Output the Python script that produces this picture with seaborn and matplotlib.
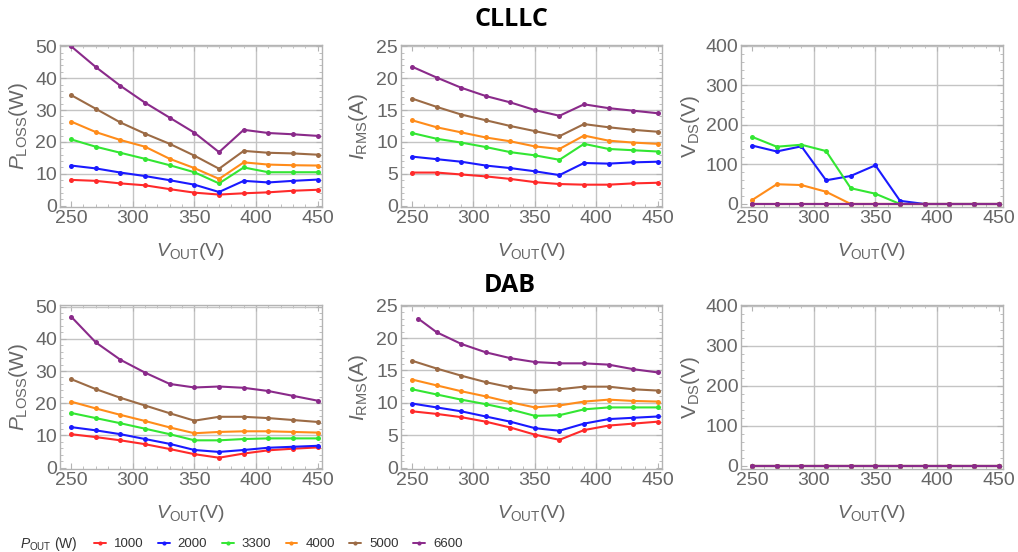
import numpy as np
import pandas as pd
import matplotlib
matplotlib.use("Agg")
import matplotlib.pyplot as plt
from matplotlib.ticker import MultipleLocator
from matplotlib.lines import Line2D
import seaborn as sns

# ---------------- data ----------------
vout = [250, 270, 290, 310, 330, 350, 370, 390, 410, 430, 450]
vout_dab_6600_irms = [255, 270, 290, 310, 330, 350, 370, 390, 410, 430, 450]
pout_levels = ["1000", "2000", "3300", "4000", "5000", "6600"]

# CLLLC power loss (W)
clllc_ploss_1000 = [8.1, 7.8, 7.0, 6.4, 5.2, 4.1, 3.5, 3.9, 4.2, 4.7, 5.0]
clllc_ploss_2000 = [12.6, 11.7, 10.4, 9.3, 8.0, 6.6, 4.3, 7.8, 7.3, 7.8, 8.2]
clllc_ploss_3300 = [20.8, 18.5, 16.6, 14.7, 12.7, 10.5, 7.0, 12.0, 10.5, 10.5, 10.5]
clllc_ploss_4000 = [26.4, 23.1, 20.6, 18.5, 14.7, 11.8, 8.4, 13.6, 12.9, 12.7, 12.6]
clllc_ploss_5000 = [34.7, 30.4, 26.1, 22.6, 19.4, 15.7, 11.6, 17.2, 16.6, 16.4, 16.0]
clllc_ploss_6600 = [50.0, 43.5, 37.6, 32.3, 27.6, 22.9, 16.8, 23.8, 22.8, 22.4, 21.9]

# CLLLC RMS current (A)
clllc_irms_1000 = [5.2, 5.2, 4.9, 4.6, 4.2, 3.7, 3.4, 3.3, 3.3, 3.5, 3.6]
clllc_irms_2000 = [7.7, 7.3, 6.9, 6.3, 5.9, 5.4, 4.8, 6.7, 6.6, 6.8, 6.9]
clllc_irms_3300 = [11.4, 10.5, 9.9, 9.2, 8.4, 7.9, 7.2, 9.7, 8.9, 8.7, 8.5]
clllc_irms_4000 = [13.4, 12.3, 11.5, 10.7, 10.1, 9.3, 8.9, 11.0, 10.2, 9.9, 9.7]
clllc_irms_5000 = [16.8, 15.5, 14.3, 13.4, 12.5, 11.7, 10.9, 12.8, 12.3, 11.9, 11.6]
clllc_irms_6600 = [21.8, 20.1, 18.5, 17.2, 16.2, 15.0, 14.1, 15.9, 15.3, 14.9, 14.5]

# CLLLC drain-source voltage at switching (V)
clllc_vds_1000 = [0, 0, 0, 0, 0, 0, 0, 0, 0, 0, 0]
clllc_vds_2000 = [148, 133, 146, 60, 71, 98, 8, 0, 0, 0, 0]
clllc_vds_3300 = [170, 145, 150, 134, 40, 26, 0, 0, 0, 0, 0]
clllc_vds_4000 = [10, 50, 48, 31, 0, 0, 0, 0, 0, 0, 0]
clllc_vds_5000 = [0, 0, 0, 0, 0, 0, 0, 0, 0, 0, 0]
clllc_vds_6600 = [0, 0, 0, 0, 0, 0, 0, 0, 0, 0, 0]

# DAB power loss (W)
dab_ploss_1000 = [10.4, 9.5, 8.5, 7.3, 5.8, 4.2, 3.1, 4.4, 5.4, 5.9, 6.3]
dab_ploss_2000 = [12.6, 11.6, 10.4, 8.9, 7.4, 5.5, 4.9, 5.5, 6.2, 6.5, 6.8]
dab_ploss_3300 = [17.0, 15.4, 13.8, 12.1, 10.4, 8.5, 8.5, 8.9, 9.1, 9.1, 9.1]
dab_ploss_4000 = [20.5, 18.4, 16.4, 14.5, 12.5, 10.7, 11.1, 11.3, 11.3, 11.1, 10.9]
dab_ploss_5000 = [27.5, 24.4, 21.7, 19.3, 16.9, 14.6, 15.8, 15.8, 15.4, 14.8, 14.2]
dab_ploss_6600 = [46.9, 38.9, 33.5, 29.5, 26.0, 24.9, 25.2, 24.8, 23.8, 22.3, 20.8]

# DAB RMS current (A)
dab_irms_1000 = [8.7, 8.3, 7.8, 7.1, 6.2, 5.1, 4.3, 5.8, 6.5, 6.8, 7.1]
dab_irms_2000 = [9.9, 9.3, 8.7, 7.9, 7.1, 6.1, 5.7, 6.8, 7.5, 7.7, 7.9]
dab_irms_3300 = [12.1, 11.3, 10.5, 9.8, 9.0, 8.0, 8.1, 9.0, 9.3, 9.3, 9.3]
dab_irms_4000 = [13.6, 12.7, 11.8, 11.0, 10.1, 9.3, 9.6, 10.2, 10.5, 10.3, 10.2]
dab_irms_5000 = [16.5, 15.3, 14.2, 13.2, 12.4, 11.9, 12.1, 12.5, 12.5, 12.1, 11.9]
dab_irms_6600 = [23.0, 20.9, 19.1, 17.8, 16.9, 16.3, 16.1, 16.1, 15.9, 15.2, 14.7]

# DAB drain-source voltage at switching (V)
dab_vds_all = [0, 0, 0, 0, 0, 0, 0, 0, 0, 0, 0]

colors = ["#ff2a2a", "#1a1aff", "#33e633", "#ff8c1a", "#9c6b45", "#8a2a8a"]

# ---------------- helpers ----------------
def build_df(series, xs_list):
    rows = []
    for lvl, vals, xs in zip(pout_levels, series, xs_list):
        for x, v in zip(xs, vals):
            rows.append({"V": x, "val": v, "P": lvl})
    return pd.DataFrame(rows)

panels = [
    ([clllc_ploss_1000, clllc_ploss_2000, clllc_ploss_3300, clllc_ploss_4000, clllc_ploss_5000, clllc_ploss_6600],
     [vout] * 6, r"$P_{\mathrm{LOSS}}$(W)", (-0.4, 50.4), 2, [0, 10, 20, 30, 40, 50]),
    ([clllc_irms_1000, clllc_irms_2000, clllc_irms_3300, clllc_irms_4000, clllc_irms_5000, clllc_irms_6600],
     [vout] * 6, r"$I_{\mathrm{RMS}}$(A)", (-0.2, 25.2), 1, [0, 5, 10, 15, 20, 25]),
    ([clllc_vds_1000, clllc_vds_2000, clllc_vds_3300, clllc_vds_4000, clllc_vds_5000, clllc_vds_6600],
     [vout] * 6, r"$\mathrm{V}_{\mathrm{DS}}$(V)", (-7.6, 402.5), 20, [0, 100, 200, 300, 400]),
    ([dab_ploss_1000, dab_ploss_2000, dab_ploss_3300, dab_ploss_4000, dab_ploss_5000, dab_ploss_6600],
     [vout] * 6, r"$P_{\mathrm{LOSS}}$(W)", (-0.4, 50.5), 2, [0, 10, 20, 30, 40, 50]),
    ([dab_irms_1000, dab_irms_2000, dab_irms_3300, dab_irms_4000, dab_irms_5000, dab_irms_6600],
     [vout] * 5 + [vout_dab_6600_irms], r"$I_{\mathrm{RMS}}$(A)", (-0.2, 25.1), 1, [0, 5, 10, 15, 20, 25]),
    ([dab_vds_all] * 6,
     [vout] * 6, r"$\mathrm{V}_{\mathrm{DS}}$(V)", (-8.4, 402.5), 20, [0, 100, 200, 300, 400]),
]

# ---------------- style ----------------
sns.set_theme(style="white")
plt.rcParams["font.family"] = ["Liberation Sans", "DejaVu Sans"]
plt.rcParams["mathtext.fontset"] = "custom"
plt.rcParams["mathtext.rm"] = "Liberation Sans"
plt.rcParams["mathtext.it"] = "Liberation Sans:italic"
plt.rcParams["mathtext.bf"] = "Liberation Sans:bold"

TXT = "#666666"
FRAME = "#b4b4b4"
GRID = "#c4c4c4"

fig = plt.figure(figsize=(10.18, 5.52), dpi=100)
W, H = 1018.0, 552.0
lefts = [60, 401, 741]
widths = [262, 261, 262]
rows_y = [(45, 207), (305, 469)]
ylab_right = [30, 370, 702]

k = 0
for r, (ytop, ybot) in enumerate(rows_y):
    for c in range(3):
        series, xs_list, ylabel, ylim, ymin, yticks = panels[k]
        ax = fig.add_axes([lefts[c] / W, 1 - ybot / H, widths[c] / W, (ybot - ytop) / H])
        df = build_df(series, xs_list)
        sns.lineplot(data=df, x="V", y="val", hue="P", hue_order=pout_levels,
                     palette=colors, marker="o", markersize=3.6, markeredgewidth=0,
                     linewidth=1.5, legend=False, ax=ax, sort=True, estimator=None)
        ax.set_xlim(241, 453.5)
        ax.set_ylim(*ylim)
        ax.set_xticks([250, 300, 350, 400, 450])
        ax.set_yticks(yticks)
        ax.xaxis.set_minor_locator(MultipleLocator(10))
        ax.yaxis.set_minor_locator(MultipleLocator(ymin))
        ax.tick_params(which="major", direction="in", length=4, width=0.8, color=FRAME,
                       labelsize=14, labelcolor=TXT, pad=2,
                       top=True, right=True, bottom=True, left=True)
        ax.tick_params(which="minor", direction="in", length=2, width=0.6, color=FRAME,
                       top=True, right=True, bottom=True, left=True)
        ax.grid(True, which="major", color=GRID, linewidth=1.0)
        gl = ax.xaxis.get_gridlines()
        gl[0].set_visible(False)
        gl[-1].set_visible(False)
        ax.yaxis.get_gridlines()[0].set_visible(False)
        ax.set_axisbelow(True)
        for s in ax.spines.values():
            s.set_color(FRAME)
            s.set_linewidth(1.0)
        ax.set_xlabel(r"$V_{\mathrm{OUT}}$(V)", fontsize=14, color=TXT, labelpad=10)
        ax.set_ylabel(ylabel, fontsize=15, color=TXT)
        ax.yaxis.set_label_coords((ylab_right[c] - lefts[c]) / widths[c], 0.5)
        k += 1

fig.text(511 / W, 1 - 19 / H, "CLLLC", ha="center", va="center",
         fontsize=18, fontweight="bold", color="black", family=["Open Sans", "DejaVu Sans"])
fig.text(510 / W, 1 - 286 / H, "DAB", ha="center", va="center",
         fontsize=18, fontweight="bold", color="black", family=["Open Sans", "DejaVu Sans"])

# legend
fig.text(20 / W, 1 - 544 / H, r"$P_{\mathrm{OUT}}$ (W)", ha="left", va="center",
         fontsize=10, color="#333333")
handles = [Line2D([0], [0], color=col, lw=1.4, marker="o", markersize=3, markeredgewidth=0)
           for col in colors]
fig.legend(handles, pout_levels, loc="center left", bbox_to_anchor=(94 / W, 1 - 544 / H),
           ncol=6, frameon=False, fontsize=9.5, handlelength=0.9, handletextpad=0.6,
           columnspacing=1.1, borderpad=0, borderaxespad=0, labelcolor="#333333")

fig.savefig("out.png", dpi=100)
